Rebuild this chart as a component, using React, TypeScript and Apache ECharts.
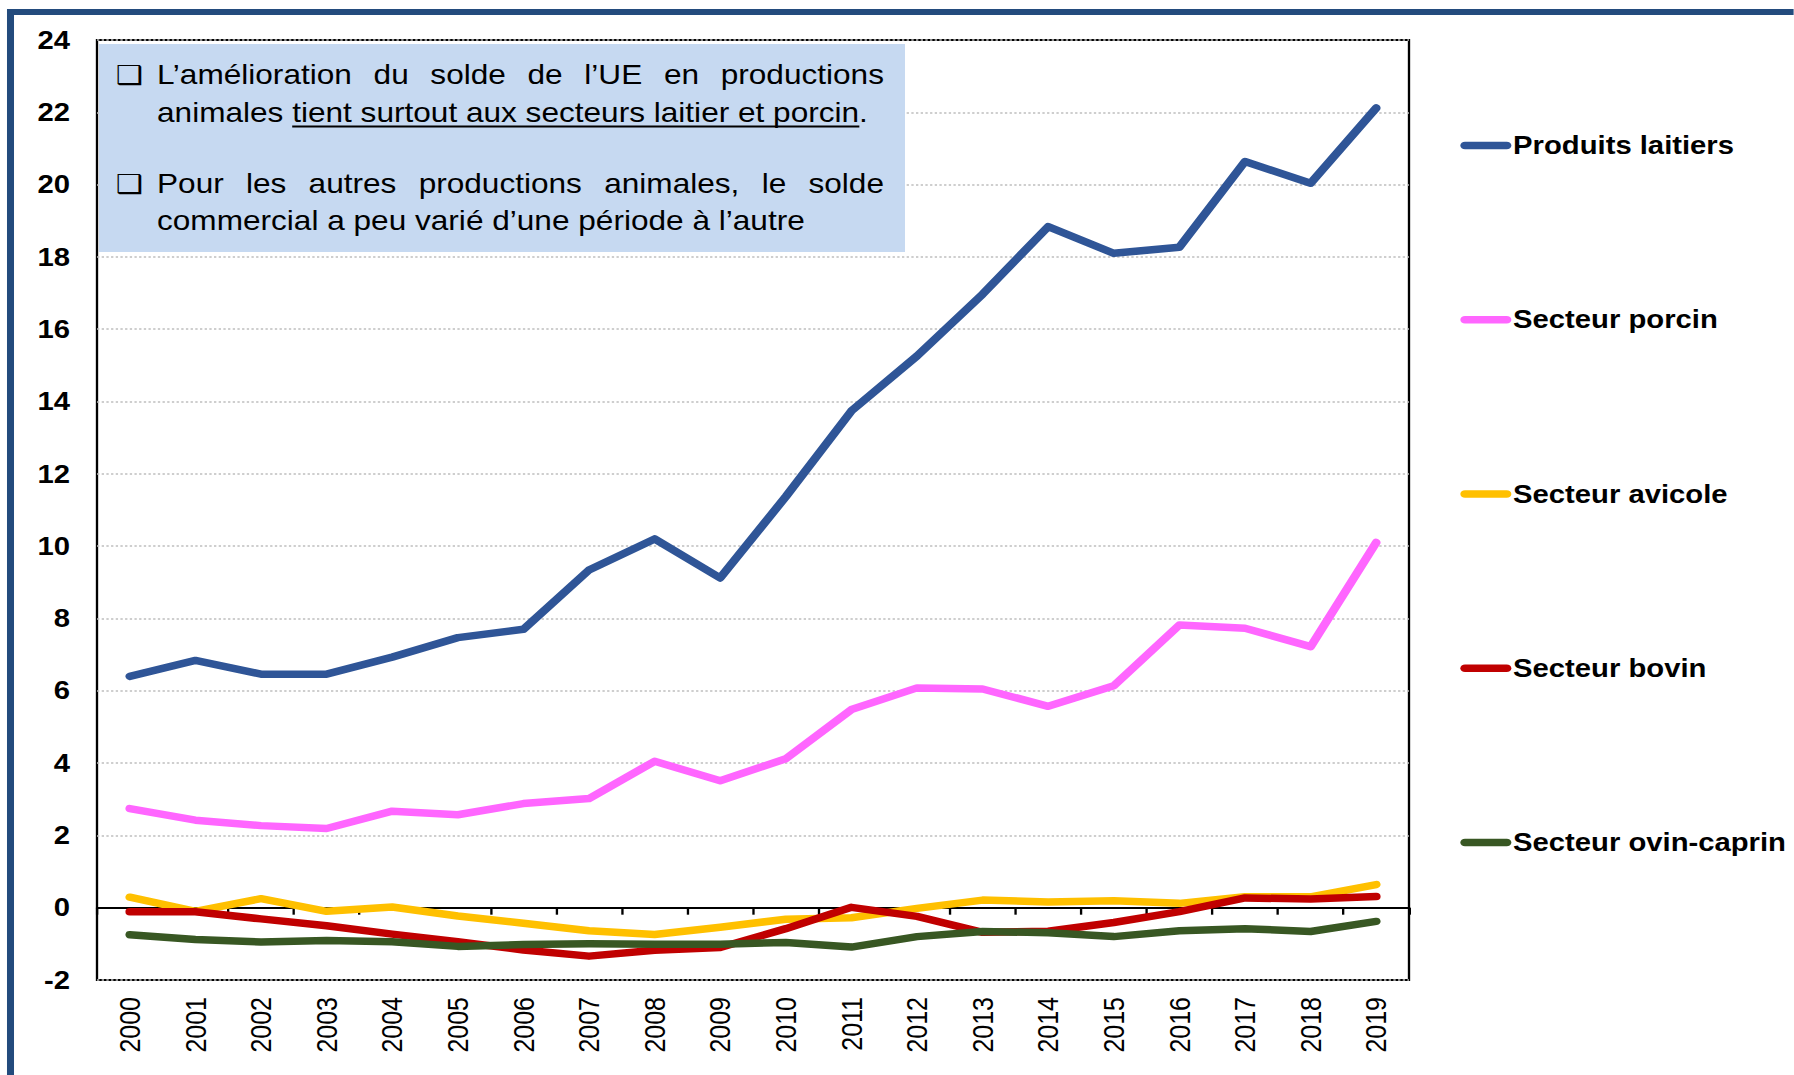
import React, { useEffect, useRef } from "react";
import * as echarts from "echarts";

const years = ["2000","2001","2002","2003","2004","2005","2006","2007","2008","2009","2010","2011","2012","2013","2014","2015","2016","2017","2018","2019"];
const laitiers = [6.4, 6.84, 6.46, 6.46, 6.93, 7.47, 7.7, 9.34, 10.2, 9.12, 11.37, 13.74, 15.26, 16.97, 18.84, 18.1, 18.27, 20.64, 20.04, 22.12];
const porcin = [2.74, 2.42, 2.27, 2.19, 2.67, 2.57, 2.88, 3.02, 4.05, 3.51, 4.12, 5.48, 6.08, 6.05, 5.57, 6.14, 7.82, 7.73, 7.22, 10.1];
const avicole = [0.29, -0.1, 0.25, -0.1, 0.02, -0.23, -0.43, -0.64, -0.74, -0.54, -0.32, -0.28, -0.02, 0.21, 0.16, 0.19, 0.12, 0.3, 0.3, 0.64];
const bovin = [-0.11, -0.11, -0.31, -0.5, -0.73, -0.94, -1.17, -1.34, -1.18, -1.1, -0.58, 0.01, -0.24, -0.68, -0.65, -0.41, -0.11, 0.27, 0.24, 0.31];
const ovin = [-0.75, -0.88, -0.95, -0.91, -0.94, -1.07, -1.02, -1.0, -1.01, -1.01, -0.96, -1.09, -0.8, -0.66, -0.69, -0.8, -0.64, -0.58, -0.66, -0.38];

const seriesNames = ["Produits laitiers", "Secteur porcin", "Secteur avicole", "Secteur bovin", "Secteur ovin-caprin"];
const seriesColors = ["#2F5597", "#FF66FF", "#FFC000", "#C00000", "#385723"];
const seriesData = [laitiers, porcin, avicole, bovin, ovin];
const yTicks = { min: -2, max: 24, interval: 2 };

const boxLines = [
  { text: "L\u2019amélioration du solde de l\u2019UE en productions", justify: true, bullet: true },
  { text: "animales tient surtout aux secteurs laitier et porcin.", justify: false, bullet: false, underline: "tient surtout aux secteurs laitier et porcin", underlinePrefix: "animales " },
  { text: "Pour les autres productions animales, le solde", justify: true, bullet: true },
  { text: "commercial a peu varié d\u2019une période à l\u2019autre", justify: false, bullet: false },
];

const S = 1.17; // horizontal stretch of the reference
const W = 1794;
const H = 1075;
const FONT = "Liberation Sans";

export default function App() {
  const ref = useRef<HTMLDivElement>(null);
  useEffect(() => {
    if (!ref.current) return;
    const chart = echarts.init(ref.current, null, { renderer: "svg" });
    const cx = (v: number) => v / S;

    const canvas = document.createElement("canvas");
    const ctx = canvas.getContext("2d")!;
    const boxFontSize = 27;
    ctx.font = `${boxFontSize}px "${FONT}"`;
    const mw = (t: string) => ctx.measureText(t).width;

    const textX0 = cx(157);
    const textX1 = cx(884);
    const baselines = [86, 124, 195, 232];
    const midOff = boxFontSize * 0.35 + 2.5;

    const graphics: any[] = [
      {
        type: "rect",
        z: 100,
        shape: { x: cx(10.5), y: 12, width: 3000, height: 3000 },
        style: { fill: "none", stroke: "#234B7D", lineWidth: 6 },
        silent: true,
      },
      {
        type: "rect",
        z: 10,
        shape: { x: cx(99), y: 44, width: cx(905) - cx(99), height: 208 },
        style: { fill: "#C6D9F1" },
        silent: true,
      },
    ];

    boxLines.forEach((ln: any, i) => {
      const yMid = baselines[i] - midOff;
      if (ln.bullet) {
        graphics.push({
          type: "text",
          z: 11,
          x: cx(129),
          y: yMid + 1,
          style: { text: "\u2751", fontSize: 26, fontFamily: "DejaVu Sans", fill: "#000", textAlign: "center", textVerticalAlign: "middle" },
        });
      }
      if (ln.justify) {
        const words = ln.text.split(" ");
        const widths = words.map((w: string) => mw(w));
        const total = widths.reduce((a: number, b: number) => a + b, 0);
        const gap = (textX1 - textX0 - total) / (words.length - 1);
        let x = textX0;
        words.forEach((w: string, k: number) => {
          graphics.push({
            type: "text",
            z: 11,
            x,
            y: yMid,
            style: { text: w, fontSize: boxFontSize, fontFamily: FONT, fill: "#000", textAlign: "left", textVerticalAlign: "middle" },
          });
          x += widths[k] + gap;
        });
      } else {
        graphics.push({
          type: "text",
          z: 11,
          x: textX0,
          y: yMid,
          style: { text: ln.text, fontSize: boxFontSize, fontFamily: FONT, fill: "#000", textAlign: "left", textVerticalAlign: "middle" },
        });
        if (ln.underline) {
          const ux0 = textX0 + mw(ln.underlinePrefix);
          const ux1 = ux0 + mw(ln.underline);
          graphics.push({
            type: "line",
            z: 11,
            shape: { x1: ux0, y1: baselines[i] + 2.5, x2: ux1, y2: baselines[i] + 2.5 },
            style: { stroke: "#000", lineWidth: 1.8 },
          });
        }
      }
    });

    const option: any = {
      animation: false,
      backgroundColor: "#fff",
      textStyle: { fontFamily: FONT },
      grid: {
        left: cx(97),
        top: 40,
        width: cx(1409) - cx(97),
        height: 940,
        show: true,
        borderColor: "#000",
        borderWidth: 2,
        backgroundColor: "transparent",
      },
      legend: {
        orient: "vertical",
        left: cx(1454.5),
        top: 126.5,
        itemWidth: 51 / S,
        itemHeight: 7.5,
        itemGap: 146.25,
        symbolKeepAspect: false,
        icon: "path://M4,0 L40,0 A4,4 0 0 1 40,8 L4,8 A4,4 0 0 1 4,0 Z",
        textStyle: { fontSize: 25, fontWeight: "bold", color: "#000", fontFamily: FONT, lineHeight: 28, padding: [0, 0, 0, -3.5] },
        data: seriesNames,
      },
      xAxis: [
        {
          type: "category",
          data: years,
          position: "bottom",
          boundaryGap: true,
          axisLine: { show: false, onZero: false },
          axisTick: { show: false },
          splitLine: { show: false },
          axisLabel: { rotate: 90, fontSize: 25, color: "#000", margin: 17, fontFamily: FONT },
        },
        {
          type: "category",
          data: years,
          position: "bottom",
          boundaryGap: true,
          axisLine: { show: true, onZero: true, lineStyle: { color: "#000", width: 2 } },
          axisTick: { show: true, length: 7, inside: false, lineStyle: { color: "#000", width: 2 } },
          axisLabel: { show: false },
          splitLine: { show: false },
        },
      ],
      yAxis: {
        type: "value",
        min: yTicks.min,
        max: yTicks.max,
        interval: yTicks.interval,
        axisLine: { show: false },
        axisTick: { show: false },
        axisLabel: { fontSize: 25, fontWeight: "bold", color: "#000", margin: cx(97) - cx(70), fontFamily: FONT },
        splitLine: { show: true, lineStyle: { color: "#BFBFBF", width: 1.5, type: [2, 2] } },
      },
      series: seriesNames.map((name, i) => ({
        name,
        type: "line",
        data: seriesData[i],
        xAxisIndex: 0,
        symbol: "none",
        showSymbol: false,
        color: seriesColors[i],
        itemStyle: { color: seriesColors[i] },
        lineStyle: { color: seriesColors[i], width: 7.5, cap: "round", join: "round" },
        z: 2 + i,
      })),
      graphic: graphics,
    };
    chart.setOption(option);
    return () => chart.dispose();
  }, []);

  return (
    <div
      style={{
        position: "fixed",
        left: 0,
        top: 0,
        width: W / S,
        height: H,
        transform: `scaleX(${S})`,
        transformOrigin: "0 0",
        background: "#fff",
      }}
    >
      <div ref={ref} style={{ width: W / S, height: H }} />
    </div>
  );
}
